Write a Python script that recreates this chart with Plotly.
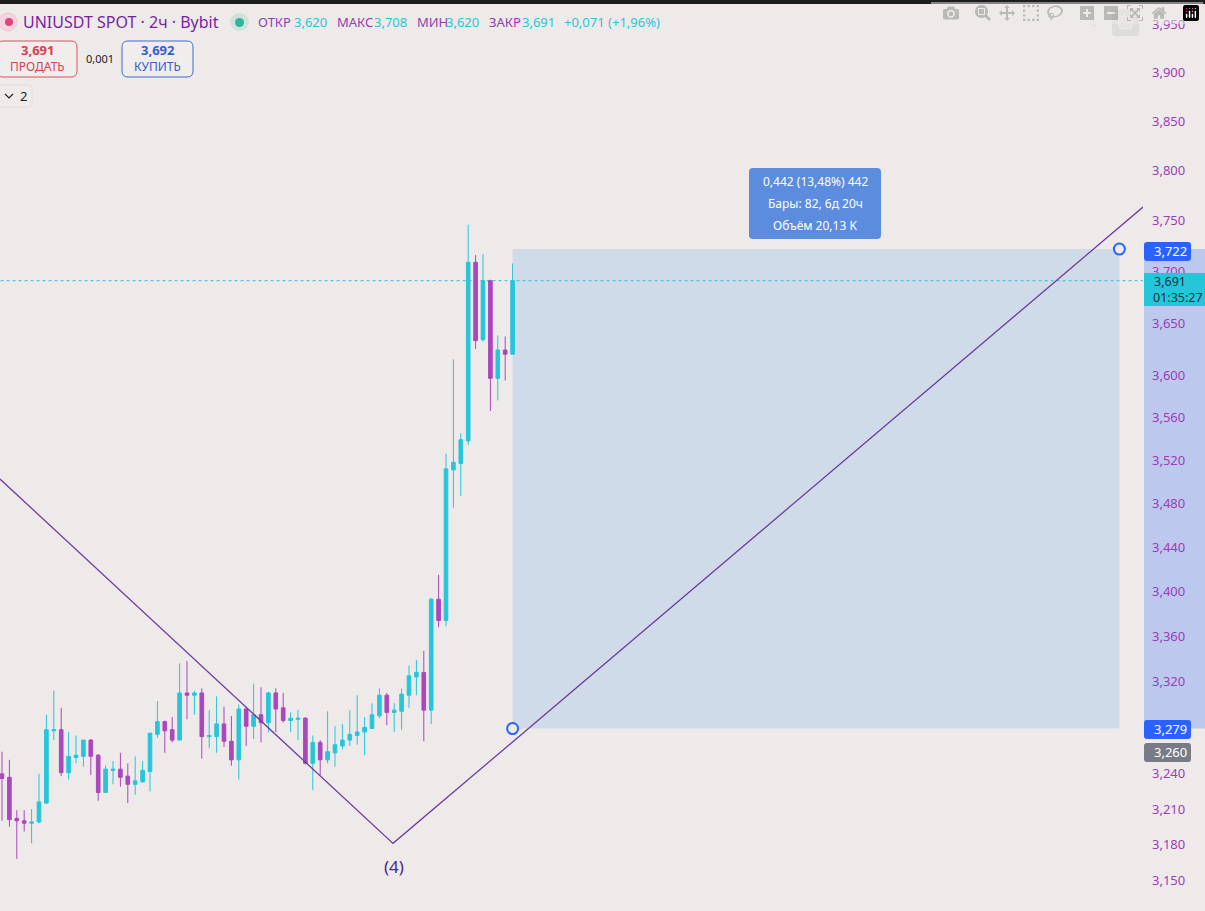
import plotly.graph_objects as go

W, H = 1205, 911
PLOT_R = 1143
BG = "#EEEAEA"
UP = "#26C6DA"
DOWN = "#AB47BC"
BLUE = "#2962FF"
FONT = "Noto Sans"

# 2h candles, oldest first
opens = [3.240, 3.237, 3.202, 3.200, 3.198, 3.199, 3.215, 3.277, 3.278, 3.241,
         3.254, 3.255, 3.269, 3.256, 3.224, 3.243, 3.244, 3.238, 3.231, 3.233,
         3.242, 3.274, 3.285, 3.278, 3.269, 3.310, 3.308, 3.310, 3.272, 3.272,
         3.283, 3.268, 3.252, 3.296, 3.281, 3.291, 3.284, 3.310, 3.297, 3.286,
         3.287, 3.288, 3.249, 3.267, 3.252, 3.258, 3.264, 3.269, 3.273, 3.276,
         3.279, 3.290, 3.308, 3.293, 3.294, 3.308, 3.324, 3.328, 3.295, 3.393,
         3.374, 3.511, 3.517, 3.538, 3.709, 3.634, 3.691, 3.597, 3.624, 3.620]
highs = [3.259, 3.252, 3.209, 3.209, 3.210, 3.240, 3.291, 3.312, 3.297, 3.276,
         3.273, 3.269, 3.270, 3.257, 3.247, 3.251, 3.258, 3.249, 3.255, 3.251,
         3.275, 3.303, 3.286, 3.289, 3.336, 3.338, 3.312, 3.314, 3.295, 3.307,
         3.298, 3.290, 3.300, 3.298, 3.318, 3.315, 3.311, 3.314, 3.310, 3.293,
         3.295, 3.289, 3.273, 3.269, 3.294, 3.281, 3.283, 3.295, 3.308, 3.289,
         3.301, 3.314, 3.310, 3.301, 3.314, 3.334, 3.339, 3.347, 3.394, 3.415,
         3.526, 3.615, 3.545, 3.746, 3.716, 3.717, 3.692, 3.638, 3.637, 3.708]
lows = [3.200, 3.195, 3.168, 3.191, 3.181, 3.198, 3.215, 3.269, 3.238, 3.235,
        3.249, 3.246, 3.239, 3.217, 3.224, 3.231, 3.229, 3.215, 3.222, 3.233,
        3.225, 3.271, 3.258, 3.267, 3.269, 3.287, 3.291, 3.253, 3.262, 3.258,
        3.263, 3.247, 3.235, 3.264, 3.270, 3.267, 3.276, 3.276, 3.284, 3.276,
        3.269, 3.248, 3.226, 3.239, 3.249, 3.246, 3.261, 3.264, 3.265, 3.256,
        3.279, 3.288, 3.282, 3.276, 3.278, 3.297, 3.308, 3.268, 3.283, 3.368,
        3.369, 3.476, 3.487, 3.534, 3.625, 3.632, 3.566, 3.576, 3.595, 3.620]
closes = [3.236, 3.201, 3.200, 3.198, 3.199, 3.216, 3.278, 3.278, 3.241, 3.255,
          3.256, 3.269, 3.255, 3.224, 3.244, 3.244, 3.237, 3.231, 3.234, 3.243,
          3.275, 3.285, 3.277, 3.269, 3.310, 3.308, 3.310, 3.272, 3.273, 3.283,
          3.268, 3.252, 3.296, 3.281, 3.291, 3.284, 3.310, 3.296, 3.286, 3.288,
          3.288, 3.249, 3.267, 3.252, 3.259, 3.265, 3.269, 3.274, 3.276, 3.280,
          3.291, 3.308, 3.293, 3.295, 3.309, 3.325, 3.328, 3.295, 3.393, 3.374,
          3.512, 3.518, 3.539, 3.709, 3.633, 3.691, 3.597, 3.624, 3.620, 3.691]
bar_index = list(range(len(opens)))

# elliott wave drawing: start, (4) low, end
wave_bars = [-0.27, 52.84, 154.19]
wave_prices = [3.5025, 3.181, 3.7635]

# measure tool
measure_bars = [69, 151]
measure_prices = [3.279, 3.722]
last_price = 3.691

tick_vals = [3.15, 3.18, 3.21, 3.24, 3.32, 3.36, 3.40, 3.44, 3.48, 3.52,
             3.56, 3.60, 3.65, 3.70, 3.75, 3.80, 3.85, 3.90, 3.95]
tick_text = ["3,150", "3,180", "3,210", "3,240", "3,320", "3,360", "3,400", "3,440", "3,480", "3,520",
             "3,560", "3,600", "3,650", "3,700", "3,750", "3,800", "3,850", "3,900", "3,950"]


def px(x):
    return x / W


def py(y):
    return 1 - y / H


def rounded(x0, y0, x1, y1, r=3):
    # rounded box in page pixels, as a paper-referenced path
    pts = [("M", x0 + r, y0), ("L", x1 - r, y0), ("Q", x1, y0, x1, y0 + r), ("L", x1, y1 - r),
           ("Q", x1, y1, x1 - r, y1), ("L", x0 + r, y1), ("Q", x0, y1, x0, y1 - r),
           ("L", x0, y0 + r), ("Q", x0, y0, x0 + r, y0)]
    out = ""
    for p in pts:
        out += p[0]
        vals = p[1:]
        out += ",".join(f"{px(vals[i])},{py(vals[i + 1])}" for i in range(0, len(vals), 2)) + " "
    return out + "Z"


def box(x0, y0, x1, y1, fill, line=None, r=3):
    return dict(type="path", xref="paper", yref="paper", layer="above", path=rounded(x0, y0, x1, y1, r),
                fillcolor=fill, line=dict(color=line or fill, width=1 if line else 0))


def label(x, y, text, size, color, anchor="left", bold=False):
    if bold:
        text = f"<b>{text}</b>"
    return dict(xref="paper", yref="paper", x=px(x), y=py(y), text=text, showarrow=False,
                xanchor=anchor, yanchor="middle", borderpad=0,
                font=dict(family=FONT, size=size, color=color))


fig = go.Figure()
fig.add_trace(go.Candlestick(
    x=bar_index, open=opens, high=highs, low=lows, close=closes,
    increasing=dict(line=dict(color=UP, width=1), fillcolor=UP),
    decreasing=dict(line=dict(color=DOWN, width=1), fillcolor=DOWN),
    whiskerwidth=0, hoverinfo="skip",
))
fig.add_trace(go.Scatter(x=wave_bars, y=wave_prices, mode="lines",
                         line=dict(color="#6B3FA0", width=1.3), hoverinfo="skip"))
fig.add_trace(go.Scatter(x=measure_bars, y=measure_prices, mode="markers", hoverinfo="skip",
                         marker=dict(size=11, color=BG, line=dict(color=BLUE, width=2))))

shapes = [
    # measure area and its band on the price scale
    dict(type="rect", xref="x", yref="y", layer="below", x0=measure_bars[0], x1=measure_bars[1],
         y0=measure_prices[0], y1=measure_prices[1], fillcolor="#D0DBE9", line=dict(width=0)),
    dict(type="rect", xref="paper", yref="y", layer="below", x0=px(1144), x1=1,
         y0=measure_prices[0], y1=measure_prices[1], fillcolor="#BCC8EE", line=dict(width=0)),
    dict(type="line", xref="x", yref="y", layer="below", x0=-1, x1=wave_bars[2],
         y0=last_price, y1=last_price, line=dict(color=UP, width=1, dash="dot")),
    # top bar
    dict(type="rect", xref="paper", yref="paper", layer="above", x0=0, x1=1, y0=py(4), y1=1,
         fillcolor="#1C1C1C", line=dict(width=0)),
    # price tags
    box(1144, 242, 1191, 261, BLUE),
    box(1144, 273, 1205, 306, UP, r=0),
    box(1144, 720, 1191, 739, BLUE),
    box(1144, 743, 1191, 762, "#787B86"),
    # measure tooltip
    box(749, 168, 881, 239, "#5B8CDE", r=4),
    # order buttons
    box(-3, 41, 77, 77, "#F1EDED", "#D9505C", r=6),
    box(122, 41, 193, 77, "#F1EDED", "#3F6BD8", r=6),
    box(-3, 85, 32, 107, "#EFEBEB", "#E2DEDE", r=3),
    dict(type="path", xref="paper", yref="paper", layer="above",
         path=f"M{px(5)},{py(94)} L{px(9)},{py(98)} L{px(13)},{py(94)}", line=dict(color="#222222", width=1.2)),
    # symbol logo and status dot
    dict(type="circle", xref="paper", yref="paper", layer="above", x0=px(-1), x1=px(17), y0=py(13), y1=py(31),
         fillcolor="#F6D3DF", line=dict(color="#E9C6D2", width=1)),
    dict(type="circle", xref="paper", yref="paper", layer="above", x0=px(5), x1=px(13), y0=py(18), y1=py(26),
         fillcolor="#E0457F", line=dict(width=0)),
    dict(type="circle", xref="paper", yref="paper", layer="above", x0=px(230), x1=px(249), y0=py(13), y1=py(31),
         fillcolor="#CFE3DE", line=dict(width=0)),
    dict(type="circle", xref="paper", yref="paper", layer="above", x0=px(235), x1=px(244), y0=py(18), y1=py(27),
         fillcolor="#2FB59C", line=dict(width=0)),
    # faded chart buttons top right
    box(1112, 9, 1139, 36, "#DEDBDB", r=3),
    box(1119, 16, 1132, 29, "#E6E3E3", "#EEEAEA", r=3),
    dict(type="path", xref="paper", yref="paper", layer="above",
         path=f"M{px(1094)},{py(16)} L{px(1094)},{py(27)} M{px(1090)},{py(23)} L{px(1094)},{py(27)} L{px(1098)},{py(23)}",
         line=dict(color="#E0DCDC", width=1)),
]

PURPLE = "#7B1FA2"
annotations = [
    label(22, 22, "UNIUSDT SPOT · 2ч · Bybit", 16, PURPLE),
    label(257, 22, "ОТКР", 13, "#8E3FB0"),
    label(293, 22, "3,620", 13, UP),
    label(336, 22, "МАКС", 13, "#8E3FB0"),
    label(373, 22, "3,708", 13, UP),
    label(416, 22, "МИН", 13, "#8E3FB0"),
    label(445, 22, "3,620", 13, UP),
    label(488, 22, "ЗАКР", 13, "#8E3FB0"),
    label(521, 22, "3,691", 13, UP),
    label(563, 22, "+0,071 (+1,96%)", 13, UP),
    label(37, 50, "3,691", 13, "#D9404F", "center", bold=True),
    label(37, 66, "ПРОДАТЬ", 12, "#D9404F", "center"),
    label(100, 58, "0,001", 11, "#222222", "center"),
    label(157, 50, "3,692", 13, "#2F5FD0", "center", bold=True),
    label(157, 66, "КУПИТЬ", 12, "#2F5FD0", "center"),
    label(23, 96, "2", 13, "#222222", "center"),
    label(815, 182, "0,442 (13,48%) 442", 12, "white", "center"),
    label(815, 203, "Бары: 82, 6д 20ч", 12, "white", "center"),
    label(815, 226, "Объём 20,13 K", 12, "white", "center"),
    label(1153, 251, "3,722", 13, "white"),
    label(1153, 282, "3,691", 12.5, "#10333A"),
    label(1152, 297, "01:35:27", 12.5, "#10333A"),
    label(1153, 729, "3,279", 13, "white"),
    label(1153, 752, "3,260", 13, "white"),
    label(394, 866, "(4)", 17, "#4A2A8C", "center"),
]

fig.update_layout(
    width=W, height=H,
    margin=dict(l=0, r=0, t=0, b=0),
    paper_bgcolor=BG, plot_bgcolor=BG,
    showlegend=False, hovermode=False, dragmode=False,
    shapes=shapes, annotations=annotations,
    xaxis=dict(domain=[0, PLOT_R / W], range=[-0.27, 154.19], visible=False,
               rangeslider=dict(visible=False), showgrid=False),
    yaxis=dict(type="log", side="right", range=[0.49480, 0.59936], autorange=False, showgrid=False,
               zeroline=False, showline=False, ticks="", tickvals=tick_vals, ticktext=tick_text,
               ticklabelstandoff=8, tickfont=dict(family=FONT, size=13, color="#9C3DB5")),
)

# page default margin would push the chart off by 8px
fig.write_html("out.html", post_script="document.body.style.margin='0';")
